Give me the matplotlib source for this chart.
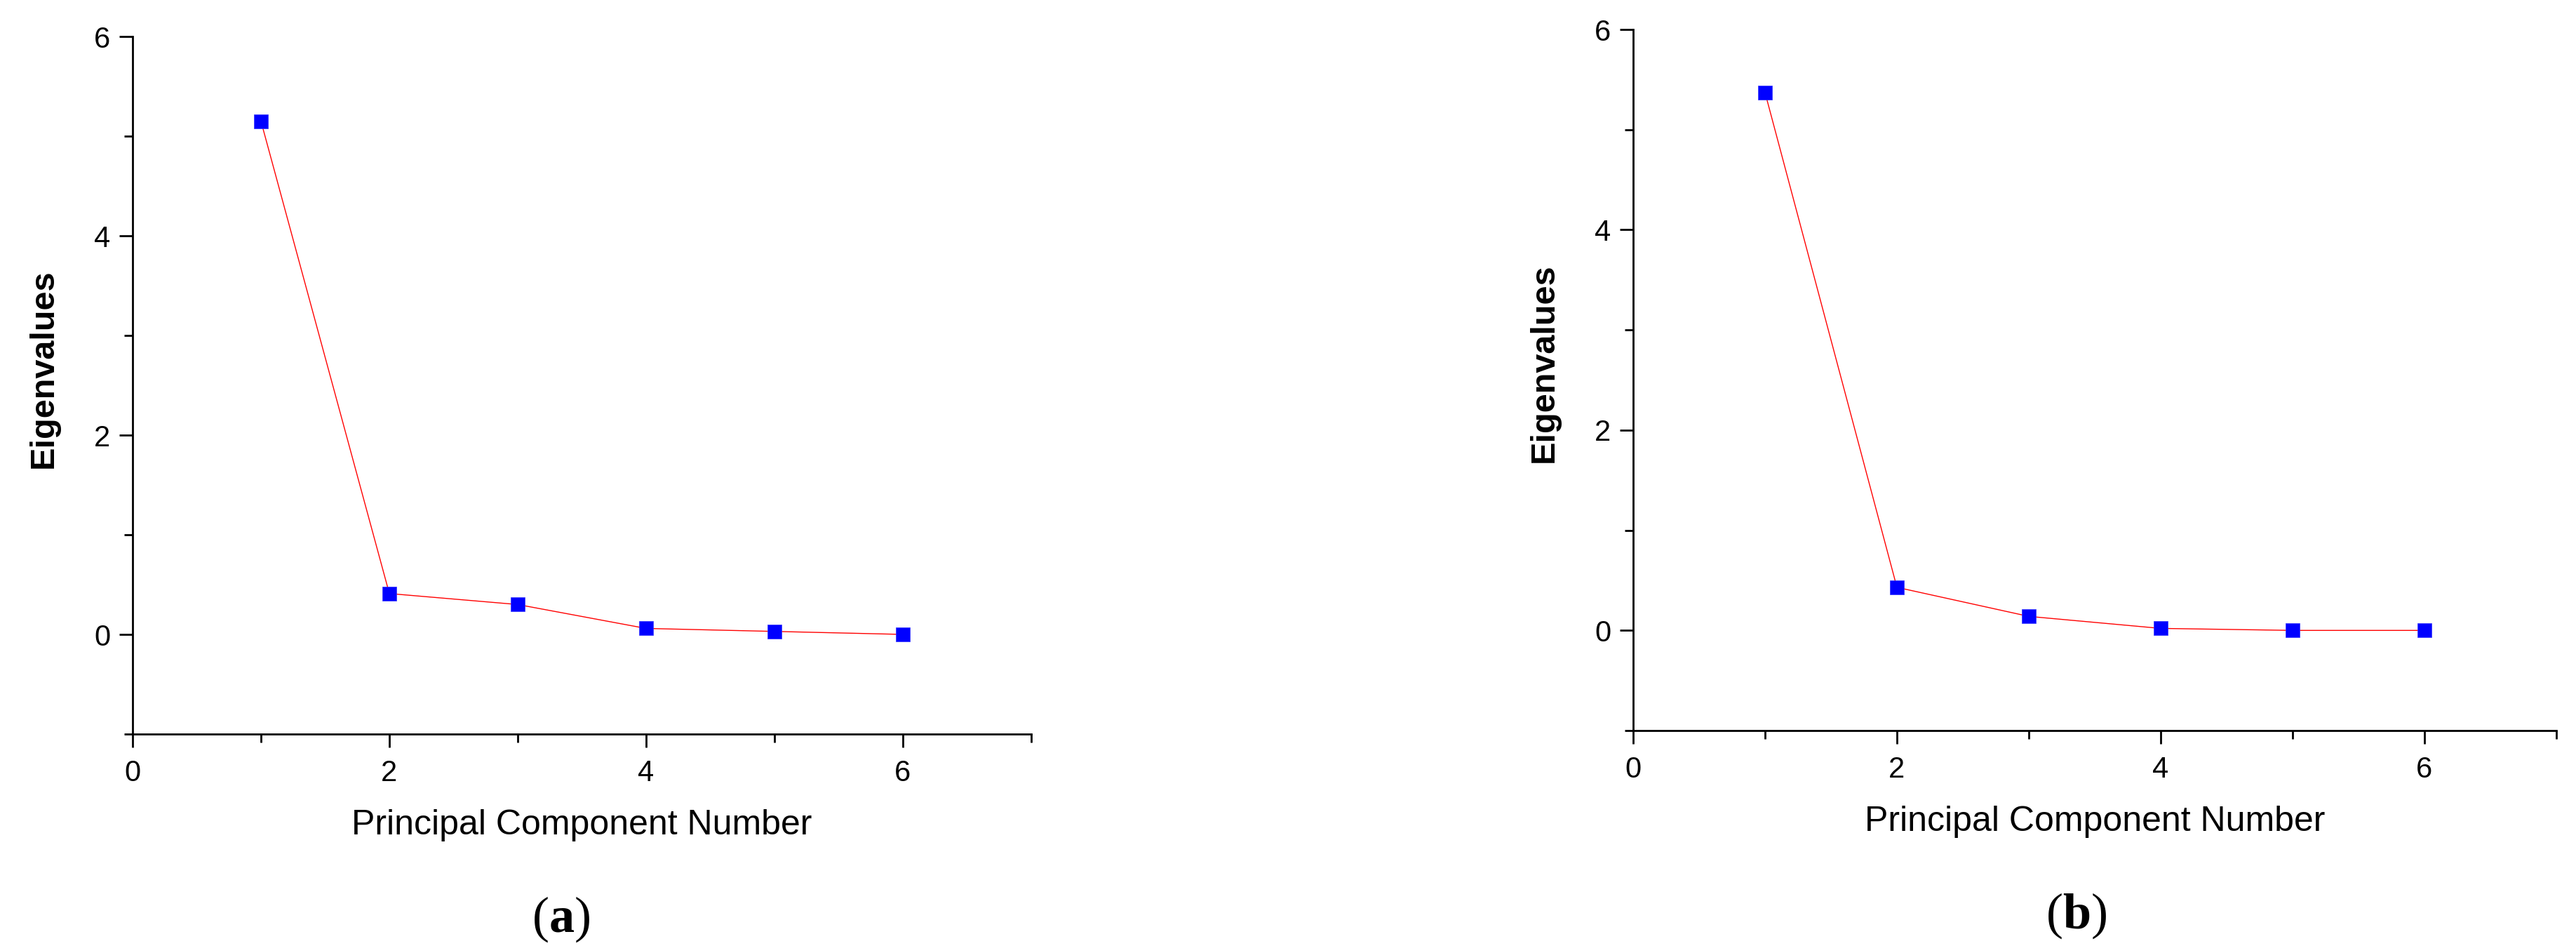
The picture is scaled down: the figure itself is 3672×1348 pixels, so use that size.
import matplotlib
matplotlib.use('Agg')
import matplotlib.pyplot as plt
from matplotlib.ticker import MultipleLocator

plt.rcParams['font.family'] = ['Liberation Sans', 'DejaVu Sans']
plt.rcParams['mathtext.fontset'] = 'custom'
plt.rcParams['mathtext.rm'] = 'Liberation Serif'
plt.rcParams['mathtext.bf'] = 'Liberation Serif:bold'

# scree plot data
pc_number = [1, 2, 3, 4, 5, 6]
eig_a = [5.15, 0.41, 0.30, 0.06, 0.03, 0.00]
eig_b = [5.37, 0.43, 0.14, 0.02, 0.00, 0.00]

W, H = 3672, 1348
fig = plt.figure(figsize=(W / 100, H / 100), dpi=100)


def scree(ax, values):
    ax.plot(pc_number, values, color='#ff0000', linewidth=1.0, zorder=2)
    ax.plot(pc_number, values, linestyle='none', marker='s', markersize=15,
            markerfacecolor='#0000ff', markeredgecolor='#3030ff',
            markeredgewidth=0.5, zorder=3)
    ax.set_xlim(0, 7)
    ax.set_ylim(-1, 6)
    ax.xaxis.set_major_locator(MultipleLocator(2))
    ax.xaxis.set_minor_locator(MultipleLocator(1))
    ax.yaxis.set_major_locator(MultipleLocator(2))
    ax.yaxis.set_minor_locator(MultipleLocator(1))
    for s in ['top', 'right']:
        ax.spines[s].set_visible(False)
    for s in ['left', 'bottom']:
        ax.spines[s].set_linewidth(2.0)
    ax.tick_params(which='major', direction='out', length=14, width=2.0,
                   labelsize=30)
    ax.tick_params(which='minor', direction='out', length=8.5, width=2.0)
    ax.tick_params(axis='x', which='major', pad=12)
    ax.tick_params(axis='y', which='major', pad=9)
    ax.set_xlabel('Principal Component Number', fontsize=36, labelpad=22)
    ax.set_ylabel('Eigenvalues', fontsize=35, fontweight='bold')


# axes boxes in pixel coords (left, top, right, bottom)
boxes = [(189, 52, 1470, 1046), (2328, 42, 3644, 1041)]
for (l, t, r, b), vals in zip(boxes, [eig_a, eig_b]):
    ax = fig.add_axes([l / W, 1 - b / H, (r - l) / W, (b - t) / H])
    scree(ax, vals)
    # label sits about 104 px left of the spine
    ax.yaxis.set_label_coords(-104 / (r - l), 0.524)

fig.text(800 / W, 1 - 1310 / H, r'($\mathbf{a}$)', fontsize=52,
         family='Liberation Serif', ha='center', va='center')
fig.text(2960 / W, 1 - 1305 / H, r'($\mathbf{b}$)', fontsize=52,
         family='Liberation Serif', ha='center', va='center')

fig.savefig('out.png', dpi=100, facecolor='white')
